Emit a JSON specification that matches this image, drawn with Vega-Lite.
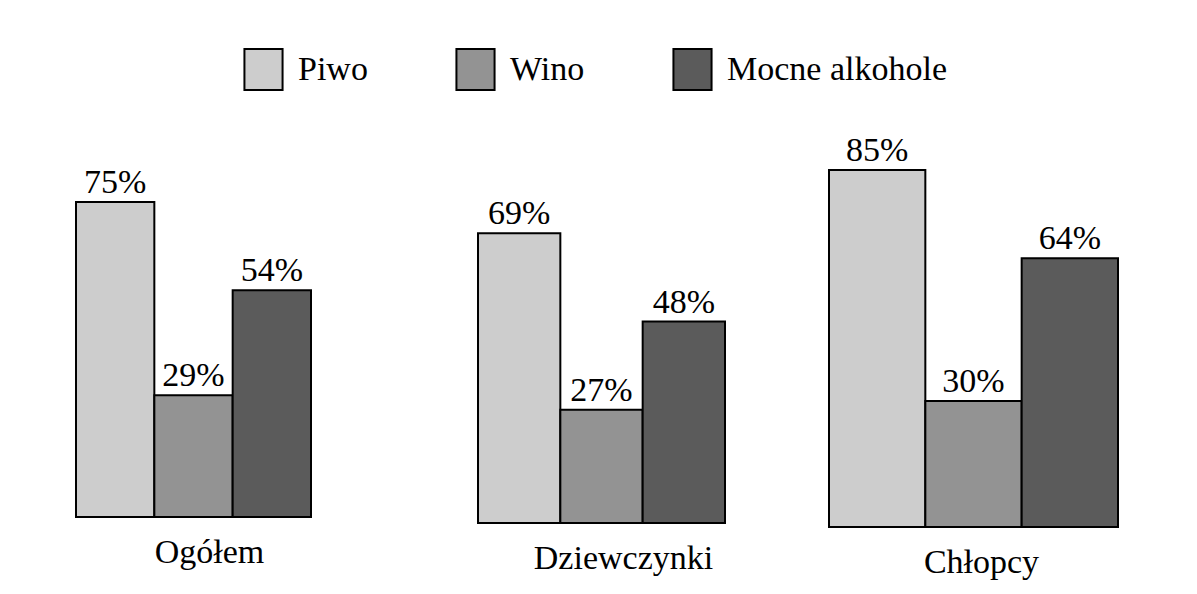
{
  "$schema": "https://vega.github.io/schema/vega-lite/v6.json",
  "padding": {"left": 75, "top": 48, "right": 10, "bottom": 10},
  "background": "white",
  "datasets": {
    "d": [
      {"group": "Ogółem", "drink": "Piwo", "value": 0.75},
      {"group": "Ogółem", "drink": "Wino", "value": 0.29},
      {"group": "Ogółem", "drink": "Mocne alkohole", "value": 0.54},
      {"group": "Dziewczynki", "drink": "Piwo", "value": 0.69},
      {"group": "Dziewczynki", "drink": "Wino", "value": 0.27},
      {"group": "Dziewczynki", "drink": "Mocne alkohole", "value": 0.48},
      {"group": "Chłopcy", "drink": "Piwo", "value": 0.85},
      {"group": "Chłopcy", "drink": "Wino", "value": 0.30},
      {"group": "Chłopcy", "drink": "Mocne alkohole", "value": 0.64}
    ]
  },
  "data": {"name": "d"},
  "spacing": 165,
  "resolve": {"scale": {"x": "independent", "y": "independent"}},
  "hconcat": [
    {
      "width": 235, "height": 397,
      "transform": [{"filter": "datum.group == 'Ogółem'"}],
      "encoding": {
        "x": {"field": "drink", "type": "nominal", "sort": ["Piwo", "Wino", "Mocne alkohole"], "scale": {"paddingInner": 0, "paddingOuter": 0}, "axis": {"title": "Ogółem", "labels": false, "ticks": false, "domain": false, "titleX": 133}},
        "y": {"field": "value", "type": "quantitative", "scale": {"domain": [0, 0.945]}, "axis": null}
      },
      "layer": [
        {"mark": {"type": "bar", "stroke": "black", "strokeWidth": 2},
         "encoding": {"color": {"field": "drink", "type": "nominal", "scale": {"domain": ["Piwo", "Wino", "Mocne alkohole"], "range": ["#cdcdcd", "#939393", "#5b5b5b"]}, "legend": {"orient": "none", "legendX": 166, "legendY": -72, "direction": "horizontal", "title": null}}}},
        {"mark": {"type": "text", "baseline": "alphabetic", "dy": -9, "font": "Liberation Serif", "fontSize": 34, "color": "black"},
         "encoding": {"text": {"field": "value", "type": "quantitative", "format": ".0%"}}}
      ]
    },
    {
      "spacing": 102,
      "resolve": {"scale": {"x": "independent", "y": "independent"}},
      "hconcat": [
        {
          "width": 247, "height": 403,
          "transform": [{"filter": "datum.group == 'Dziewczynki'"}],
          "encoding": {
            "x": {"field": "drink", "type": "nominal", "sort": ["Piwo", "Wino", "Mocne alkohole"], "scale": {"paddingInner": 0, "paddingOuter": 0}, "axis": {"title": "Dziewczynki", "labels": false, "ticks": false, "domain": false, "titleX": 145}},
            "y": {"field": "value", "type": "quantitative", "scale": {"domain": [0, 0.96]}, "axis": null}
          },
          "layer": [
            {"mark": {"type": "bar", "stroke": "black", "strokeWidth": 2},
             "encoding": {"color": {"field": "drink", "type": "nominal", "scale": {"domain": ["Piwo", "Wino", "Mocne alkohole"], "range": ["#cdcdcd", "#939393", "#5b5b5b"]}, "legend": {"orient": "none", "legendX": 166, "legendY": -72, "direction": "horizontal", "title": null}}}},
            {"mark": {"type": "text", "baseline": "alphabetic", "dy": -9, "font": "Liberation Serif", "fontSize": 34, "color": "black"},
             "encoding": {"text": {"field": "value", "type": "quantitative", "format": ".0%"}}}
          ]
        },
        {
          "width": 289, "height": 407,
          "transform": [{"filter": "datum.group == 'Chłopcy'"}],
          "encoding": {
            "x": {"field": "drink", "type": "nominal", "sort": ["Piwo", "Wino", "Mocne alkohole"], "scale": {"paddingInner": 0, "paddingOuter": 0}, "axis": {"title": "Chłopcy", "labels": false, "ticks": false, "domain": false, "titleX": 152}},
            "y": {"field": "value", "type": "quantitative", "scale": {"domain": [0, 0.969]}, "axis": null}
          },
          "layer": [
            {"mark": {"type": "bar", "stroke": "black", "strokeWidth": 2},
             "encoding": {"color": {"field": "drink", "type": "nominal", "scale": {"domain": ["Piwo", "Wino", "Mocne alkohole"], "range": ["#cdcdcd", "#939393", "#5b5b5b"]}, "legend": {"orient": "none", "legendX": 166, "legendY": -72, "direction": "horizontal", "title": null}}}},
            {"mark": {"type": "text", "baseline": "alphabetic", "dy": -9, "font": "Liberation Serif", "fontSize": 34, "color": "black"},
             "encoding": {"text": {"field": "value", "type": "quantitative", "format": ".0%"}}}
          ]
        }
      ]
    }
  ],
  "config": {
    "view": {"stroke": null},
    "axis": {"titleFont": "Liberation Serif", "titleFontSize": 34, "titleFontWeight": "normal", "titleColor": "black", "titlePadding": 18},
    "legend": {
      "labelFont": "Liberation Serif", "labelFontSize": 34, "labelColor": "black", "labelOffset": 13,
      "symbolType": "M-0.93,-1H0.93V1H-0.93Z", "symbolSize": 1681, "symbolStrokeColor": "black", "symbolStrokeWidth": 2, "symbolOpacity": 1,
      "columnPadding": 84, "labelLimit": 400, "padding": 0
    }
  }
}
